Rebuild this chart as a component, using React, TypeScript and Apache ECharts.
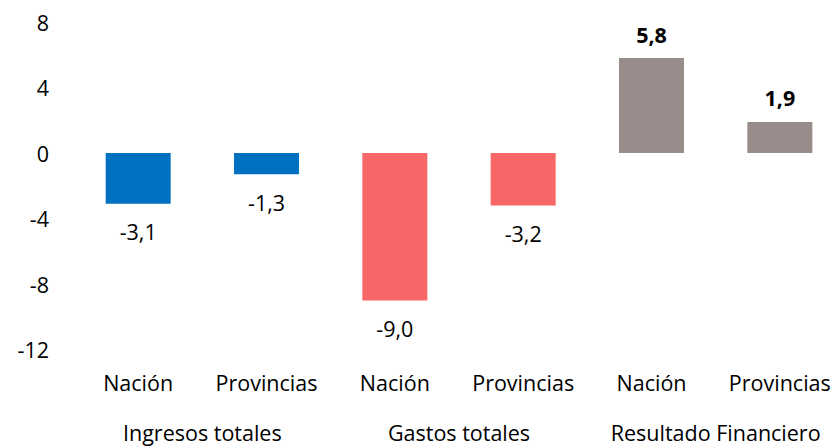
import React, { useEffect, useRef } from "react";
import * as echarts from "echarts";

const categories = ["Nación", "Provincias", "Nación", "Provincias", "Nación", "Provincias"];
const groups = ["Ingresos totales", "Gastos totales", "Resultado Financiero"];
const values = [-3.1, -1.3, -9.0, -3.2, 5.8, 1.9];
const barColors = ["#0070C0", "#0070C0", "#F76767", "#F76767", "#998D8B", "#998D8B"];
const yTicks = { min: -12, max: 8, interval: 4 };

const FONT = "'Open Sans', 'Noto Sans', sans-serif";
const FS = 21.5;

export default function App() {
  const ref = useRef<HTMLDivElement>(null);
  useEffect(() => {
    if (!ref.current) return;
    const chart = echarts.init(ref.current, undefined, { renderer: "svg" });
    const fmt = (v: number) => v.toFixed(1).replace(".", ",");
    chart.setOption({
      animation: false,
      textStyle: { fontFamily: FONT },
      grid: { left: 74, top: 22, width: 770, height: 327.6, containLabel: false },
      xAxis: [
        {
          type: "category",
          data: categories,
          axisLine: { show: false },
          axisTick: { show: false },
          axisLabel: { color: "#000", fontSize: FS, fontFamily: FONT, margin: 22, interval: 0 },
        },
        {
          type: "category",
          data: groups,
          position: "bottom",
          axisLine: { show: false },
          axisTick: { show: false },
          axisLabel: { color: "#000", fontSize: FS, fontFamily: FONT, margin: 72, interval: 0 },
        },
      ],
      yAxis: {
        type: "value",
        min: yTicks.min,
        max: yTicks.max,
        interval: yTicks.interval,
        axisLine: { show: false },
        axisTick: { show: false },
        splitLine: { show: false },
        axisLabel: { color: "#000", fontSize: FS, fontFamily: FONT, margin: 25 },
      },
      series: [
        {
          type: "bar",
          xAxisIndex: 0,
          barWidth: 65,
          data: values.map((v, i) => ({
            value: v,
            itemStyle: { color: barColors[i] },
            label: {
              show: true,
              position: v < 0 ? "bottom" : "top",
              distance: v < 0 ? 17 : 13,
              formatter: () => fmt(v),
              fontSize: FS,
              fontFamily: FONT,
              color: "#000",
              fontWeight: v < 0 ? "normal" : "bold",
            },
          })),
        },
      ],
    });
    return () => chart.dispose();
  }, []);
  return (
    <div style={{ width: 838, height: 446, position: "absolute", left: 0, top: 0, overflow: "hidden" }}>
      <div ref={ref} style={{ width: 860, height: 446 }} />
    </div>
  );
}
